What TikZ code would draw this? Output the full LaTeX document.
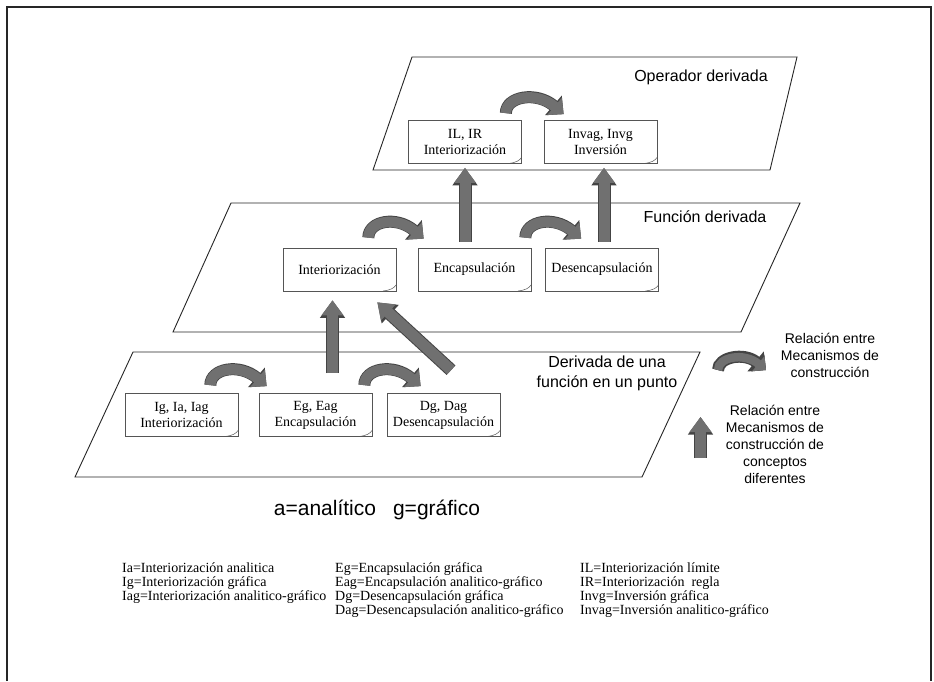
\documentclass[tikz,border=0pt]{standalone}
\usepackage{fontspec}
\setmainfont{Liberation Serif}
\setsansfont{Liberation Sans}
\usetikzlibrary{arrows.meta,calc}
\definecolor{arrowgray}{RGB}{112,112,112}
\definecolor{edgegray}{RGB}{68,68,68}
\definecolor{boxgray}{RGB}{85,85,85}
\tikzset{
  plane/.style={draw=black!85, line width=0.9pt, fill=white},
  docbox/.style={draw=boxgray, fill=white, line width=0.7pt, minimum width=113pt,
    minimum height=43pt, inner sep=2pt, align=center, font=\fontsize{14}{16}\selectfont,
    path picture={\draw[boxgray, line width=0.5pt]
      ([xshift=-13pt]path picture bounding box.south east)
      .. controls ([xshift=-5pt,yshift=1pt]path picture bounding box.south east)
      and ([xshift=-2pt,yshift=3pt]path picture bounding box.south east)
      .. ([yshift=6pt]path picture bounding box.south east);}},
  uparr/.style={draw=arrowgray, line width=11pt, -{Triangle[width=21pt,length=15pt]},
    preaction={draw=edgegray, line width=13pt, -{Triangle[width=24pt,length=17.5pt]}}},
  curvarr/.style={draw=arrowgray, line width=10.5pt, -{Triangle[width=22pt,length=12pt]},
    preaction={draw=edgegray, line width=12pt, -{Triangle[width=25pt,length=13.5pt]}},
    to path={.. controls ($(\tikztostart)+(0,-17)$) and ($(\tikztotarget)+(-27,-23)$) .. (\tikztotarget)}},
  planelabel/.style={font=\sffamily\fontsize{16}{20}\selectfont, align=center},
  keytext/.style={font=\sffamily\fontsize{14}{17}\selectfont, align=center},
  legtext/.style={font=\fontsize{14}{14}\selectfont, anchor=base west, inner sep=0pt}
}
\begin{document}
\begin{tikzpicture}[x=1pt,y=-1pt]
\useasboundingbox (0,0) rectangle (934,681);
\fill[white] (0,0) rectangle (934,681);
\draw[line width=1.8pt, black!85] (7,681) -- (7,7) -- (931,7) -- (931,681);

% the three levels
\draw[plane] (412,57) -- (797,57) -- (770,170) -- (373,170) -- cycle;
\draw[plane] (231,203) -- (800,203) -- (741,332) -- (173,332) -- cycle;
\draw[plane] (133,352) -- (700,352) -- (642,477) -- (75,477) -- cycle;

\node[planelabel] (lop) at (701,77) {Operador derivada};
\node[planelabel] (lfd) at (705,217) {Función derivada};
\node[planelabel] (ldp) at (607,373) {Derivada de una\\función en un punto};

% mechanisms
\node[docbox] (il) at (465,142) {IL, IR\\Interiorización};
\node[docbox] (inv) at (600.5,142) {Invag, Invg\\Inversión};
\node[docbox] (int) at (339.5,269.5) {Interiorización};
\node[docbox] (enc) at (474.5,269.5) {Encapsulación};
\node[docbox] (des) at (602,269.5) {Desencapsulación};
\node[docbox] (ig) at (181.5,415) {Ig, Ia, Iag\\Interiorización};
\node[docbox] (eg) at (315.5,415) {Eg, Eag\\Encapsulación};
\node[docbox] (dg) at (443.5,415) {Dg, Dag\\Desencapsulación};

% relations inside a level
\draw[curvarr] ($(il.north east)+(-16,-7)$) to ($(inv.north west)+(20,-6)$);
\draw[curvarr] ($(int.north east)+(-28,-10)$) to ($(enc.north west)+(6,-9)$);
\draw[curvarr] ($(enc.north east)+(-6,-10)$) to ($(des.north west)+(36,-9)$);
\draw[curvarr] ($(ig.north east)+(-28,-8)$) to ($(eg.north west)+(8,-7)$);
\draw[curvarr] ($(eg.north east)+(-8,-8)$) to ($(dg.north west)+(34,-7)$);

% relations between levels
\draw[uparr] ($(enc.north -| il.south)+(0,-6)$) -- ($(il.south)+(0,4)$);
\draw[uparr] ($(des.north)+(2,-6)$) -- ($(inv.south)+(3.5,4)$);
\draw[uparr] ($(eg.north)+(17,-20)$) -- ($(int.south)+(-7,9)$);
\draw[uparr] ($(dg.north)+(7.5,-23)$) -- ($(int.south east)+(-19,11)$);

% key
\draw[curvarr, line width=8.5pt, -{Triangle[width=19pt,length=10pt]},
  preaction={draw=edgegray, line width=10pt, -{Triangle[width=21pt,length=11pt]}}]
  (718,370) .. controls (718,357) and (744,352) .. (766,370);
\node[keytext] (k1) at (830,355) {Relación entre\\Mecanismos de\\construcción};
\draw[uparr] (700.5,458) -- (700.5,417);
\node[keytext] (k2) at (775,444) {Relación entre\\Mecanismos de\\construcción de\\conceptos\\diferentes};

\node[font=\sffamily\fontsize{21}{24}\selectfont] (lag) at (377,510) {a=analítico\hspace{17pt}g=gráfico};

\foreach \t [count=\i] in {Ia=Interiorización analitica, Ig=Interiorización gráfica,
    Iag=Interiorización analitico-gráfico}
  \node[legtext] (la\i) at (122,558+14*\i) {\t};
\foreach \t [count=\i] in {Eg=Encapsulación gráfica, Eag=Encapsulación analitico-gráfico,
    Dg=Desencapsulación gráfica, Dag=Desencapsulación analitico-gráfico}
  \node[legtext] (lb\i) at (335,558+14*\i) {\t};
\foreach \t [count=\i] in {IL=Interiorización límite, IR=Interiorización\ \ regla,
    Invg=Inversión gráfica, Invag=Inversión analitico-gráfico}
  \node[legtext] (lc\i) at (580,558+14*\i) {\t};
\end{tikzpicture}
\end{document}
